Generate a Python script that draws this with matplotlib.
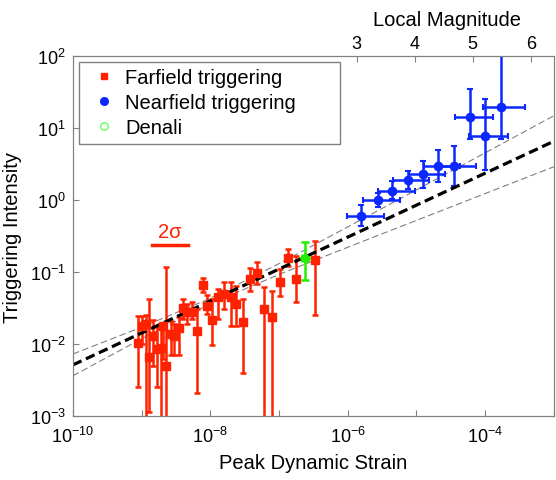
import numpy as np
import matplotlib.pyplot as plt
from matplotlib.lines import Line2D
from matplotlib.ticker import FixedLocator, FuncFormatter, NullLocator

plt.rcParams['font.family'] = ['Liberation Sans', 'DejaVu Sans']
plt.rcParams['mathtext.fontset'] = 'custom'
plt.rcParams['mathtext.rm'] = 'Liberation Sans'
plt.rcParams['mathtext.default'] = 'regular'

# farfield triggering (log10 values)
far_x = [-9.05, -9.00, -8.94, -8.89, -8.83, -8.77, -8.72, -8.69, -8.64, -8.57, -8.53, -8.45,
         -8.39, -8.34, -8.27, -8.19, -8.11, -8.045, -7.97, -7.885, -7.80, -7.70, -7.62, -7.52,
         -7.42, -7.32, -7.22, -7.10, -6.99, -6.87, -6.745, -6.48]
far_y = [-1.98, -1.75, -1.72, -2.18, -1.885, -2.07, -2.06, -1.75, -2.31, -1.86, -1.89, -1.78,
         -1.50, -1.55, -1.56, -1.815, -1.18, -1.47, -1.66, -1.34, -1.30, -1.34, -1.44, -1.69,
         -1.10, -1.01, -1.51, -1.63, -1.14, -0.81, -1.10, -0.83]
far_hi = [-1.61, -1.61, -1.60, -1.375, -1.667, -1.76, -1.79, -1.72, -0.935, -1.68, -1.72, -1.625,
          -1.375, -1.44, -1.42, -1.51, -1.08, -1.32, -1.375, -1.24, -1.14, -1.14, -1.19, -1.38,
          -0.94, -0.865, -1.20, -1.26, -0.96, -0.68, -0.77, -0.565]
far_lo = [-2.60, -2.00, -4, -2.95, -2.30, -2.60, -4, -2.21, -4, -2.15, -2.15, -2.15,
          -1.65, -1.72, -1.65, -2.68, -1.27, -1.58, -2.01, -1.65, -1.51, -1.75, -1.75, -2.40,
          -1.26, -1.17, -4, -4, -1.33, -0.91, -1.42, -1.60]

# nearfield triggering (log10 values)
near_x = [-5.80, -5.565, -5.35, -5.128, -4.90, -4.68, -4.455, -4.22, -4.00, -3.775]
near_xlo = [-6.016, -5.78, -5.556, -5.34, -5.105, -4.89, -4.67, -4.44, -4.23, -4.03]
near_xhi = [-5.47, -5.24, -5.02, -4.81, -4.585, -4.367, -4.125, -3.89, -3.66, -3.42]
near_y = [-0.218, 0.0, 0.129, 0.282, 0.361, 0.476, 0.476, 1.157, 0.893, 1.29]
near_yhi = [-0.065, 0.097, 0.268, 0.407, 0.546, 0.694, 0.746, 1.55, 1.41, 2.0]
near_ylo = [-0.365, -0.10, 0.014, 0.153, 0.163, 0.246, 0.19, 0.847, 0.42, 0.847]

# Denali
den_x, den_xerr = -6.62, 0.05
den_y, den_hi, den_lo = -0.80, -0.58, -1.11

# fit line and confidence band (log10)
fit_x0, fit_y0, fit_slope = -10.0, -2.29, 0.444
band_x = [-10, -9, -8, -7, -6, -5, -4, -3]
band_hw = [0.152, 0.080, 0.037, 0.075, 0.141, 0.212, 0.283, 0.354]

# 2 sigma bar
sig_x = [-8.85, -8.33]
sig_y = -0.625

# magnitude axis: log10(strain) = mag_a * M + mag_b
mag_a, mag_b = 0.8457, -8.408
mag_ticks = [3, 4, 5, 6]

red = '#ff2200'
blue = '#0a28ff'
green = '#22ee00'
gray = '#808080'

fig = plt.figure(figsize=(5.56, 4.81), dpi=100)
ax = fig.add_axes([0.131, 0.133, 0.865, 0.748])
ax.set_xscale('log')
ax.set_yscale('log')

bx = np.array(band_x, dtype=float)
fit = fit_y0 + fit_slope * (bx - fit_x0)
ax.plot(10**bx, 10**(fit + np.array(band_hw)), '--', color=gray, lw=0.8, dashes=(6, 3))
ax.plot(10**bx, 10**(fit - np.array(band_hw)), '--', color=gray, lw=0.8, dashes=(6, 3))

fx = 10**np.array(far_x)
fy = 10**np.array(far_y)
ax.errorbar(fx, fy, yerr=[fy - 10**np.array(far_lo), 10**np.array(far_hi) - fy],
            fmt='s', color=red, ms=6, elinewidth=1.8, capsize=2.5, capthick=1.8)

nx = 10**np.array(near_x)
ny = 10**np.array(near_y)
ax.errorbar(nx, ny, yerr=[ny - 10**np.array(near_ylo), 10**np.array(near_yhi) - ny],
            xerr=[nx - 10**np.array(near_xlo), 10**np.array(near_xhi) - nx],
            fmt='o', color=blue, ms=6, elinewidth=1.8, capsize=2, capthick=1.5)

gx = 10**den_x
gy = 10**den_y
ax.errorbar([gx], [gy], yerr=[[gy - 10**den_lo], [10**den_hi - gy]],
            xerr=[[gx - 10**(den_x - den_xerr)], [10**(den_x + den_xerr) - gx]],
            fmt='D', color=green, ms=5, elinewidth=1.8, capsize=3, capthick=1.8)

ax.plot(10**bx, 10**fit, '--', color='black', lw=2.3, dashes=(3, 1.5))

ax.plot(10**np.array(sig_x), [10**sig_y] * 2, color=red, lw=2.5)
ax.text(10**np.mean(sig_x), 10**(sig_y + 0.06), '2σ', color=red, fontsize=14.5,
        ha='center', va='bottom')

ax.set_xlim(1e-10, 1e-3)
ax.set_ylim(1e-3, 1e2)

ax.xaxis.set_major_locator(FixedLocator([10.0**k for k in range(-10, -2)]))
ax.xaxis.set_minor_locator(NullLocator())
ax.xaxis.set_major_formatter(FuncFormatter(
    lambda v, p: '$10^{%d}$' % round(np.log10(v)) if round(np.log10(v)) % 2 == 0 else ''))
ax.yaxis.set_major_locator(FixedLocator([10.0**k for k in range(-3, 3)]))
ax.yaxis.set_minor_locator(NullLocator())
ax.yaxis.set_major_formatter(FuncFormatter(lambda v, p: '$10^{%d}$' % round(np.log10(v))))

for s in ax.spines.values():
    s.set_color(gray)
ax.tick_params(which='both', direction='in', length=4, color=gray, labelsize=13, pad=5)
ax.tick_params(axis='x', pad=7)
ax.tick_params(top=False, right=False)

ax.set_xlabel('Peak Dynamic Strain', fontsize=14.5, labelpad=5)
ax.set_ylabel('Triggering Intensity', fontsize=14.5)
ax.yaxis.set_label_coords(-0.105, 0.5)

# top axis in local magnitude, linear in log10(strain)
ax2 = ax.twiny()
ax2.set_xlim((np.log10(1e-10) - mag_b) / mag_a, (np.log10(1e-3) - mag_b) / mag_a)
ax2.xaxis.set_major_locator(FixedLocator(mag_ticks))
ax2.xaxis.set_minor_locator(NullLocator())
ax2.tick_params(axis='x', direction='in', length=4, color=gray, labelsize=13, pad=3)
for s in ax2.spines.values():
    s.set_color(gray)
ax2.set_xlabel('Local Magnitude', fontsize=14.5)
ax2.xaxis.set_label_coords(0.778, 1.103)
ax2.xaxis.label.set_va('center')

handles = [Line2D([], [], ls='none', marker='s', color=red, ms=5),
           Line2D([], [], ls='none', marker='o', color=blue, ms=5.5),
           Line2D([], [], ls='none', marker='o', mfc='none', mec='#66ff66', ms=5.5)]
leg = ax2.legend(handles, ['Farfield triggering', 'Nearfield triggering', 'Denali'],
                 loc='upper left', bbox_to_anchor=(0.0125, 0.5, 0.543, 0.483), mode='expand',
                 fontsize=14.5, frameon=True, fancybox=False, framealpha=1, edgecolor=gray,
                 handlelength=1.9, handletextpad=0.1, labelspacing=0.3, borderpad=0.3,
                 borderaxespad=0)
leg.get_frame().set_linewidth(1.0)

fig.text(-0.014, -0.026, 'b', fontsize=18, fontweight='bold')

fig.savefig('out.png', dpi=100)
